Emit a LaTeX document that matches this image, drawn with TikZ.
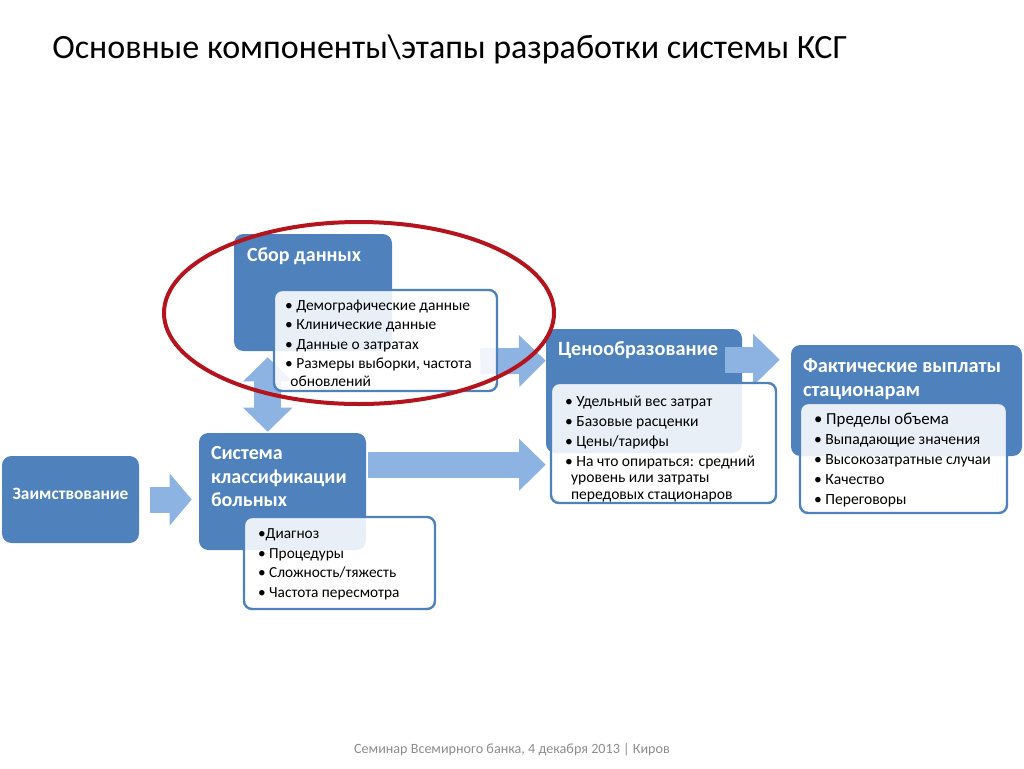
\documentclass[tikz,border=0pt]{standalone}
\usepackage{fontspec}
\setmainfont{Carlito}
\usepackage{tikz}
\usetikzlibrary{arrows.meta, positioning, fit, calc}
\definecolor{boxblue}{RGB}{79,129,189}
\definecolor{arrowblue}{RGB}{141,179,226}
\definecolor{ringred}{RGB}{180,20,30}
\definecolor{footgrey}{RGB}{140,140,140}

\begin{document}
\begin{tikzpicture}[x=0.75pt,y=0.75pt,yscale=-1,xscale=1,
  bluebox/.style={fill=boxblue, rounded corners=7pt, inner sep=0pt},
  listbox/.style={draw=boxblue, line width=1.8pt, fill=white, fill opacity=0.88, rounded corners=6pt, inner sep=0pt},
  blockarrow/.style={draw=arrowblue, line width=19.5pt, -{Triangle[length=20pt,width=39pt,line width=0pt]}},
  headtext/.style={text=white, inner sep=0pt, anchor=north west, align=left},
  listtext/.style={inner sep=0pt, anchor=north west, align=left},
]
\useasboundingbox (0,0) rectangle (1024,768);
%Title
\node[anchor=base west, inner sep=0pt, font=\fontsize{25.5}{30}\selectfont] (title) at (52,58) {Основные компоненты\textbackslash этапы разработки системы КСГ};
%Blue boxes
\node[bluebox, fit={(2,456) (139,543)}, text=white, font=\bfseries\fontsize{13}{15}\selectfont] (borrow) {Заимствование};
\node[bluebox, fit={(199,433) (366,550)}] (cls) {};
\node[bluebox, fit={(234,234) (392,351)}] (collect) {};
\node[bluebox, fit={(546,329) (742,453)}] (price) {};
\node[bluebox, fit={(791,345) (1022,456)}] (fact) {};
%Block arrows
\draw[blockarrow, -{Triangle[length=16.5pt,width=39pt,line width=0pt]}, shorten <=8.25pt, shorten >=5.25pt] (borrow.east) -- (borrow.east -| cls.west);
\draw[blockarrow, shorten <=1.5pt] ($(cls.north east)+(0,32)$) -- ($(price.north west)+(0,136)$);
\draw[blockarrow] ($(collect.south east)+(88,10)$) -- ($(price.north west)+(0,32)$);
\draw[blockarrow, shorten <=-12.75pt, shorten >=8.25pt] ($(price.north east)+(0,31)$) -- ($(fact.north west)+(0,15)$);
\draw[blockarrow, line width=20pt, {Triangle[length=18pt,width=37pt,line width=0pt]}-{Triangle[length=18pt,width=37pt,line width=0pt]}, shorten <=0.75pt, shorten >=4.5pt] ($(cls.north west)+(69,0)$) -- ($(collect.south west)+(34,0)$);
%List boxes
\node[listbox, fit={(274,290) (497,391)}] (collectlist) {};
\node[listbox, fit={(244,517) (435,609)}] (clslist) {};
\node[listbox, fit={(551,383) (776,503)}] (pricelist) {};
\node[listbox, fit={(800,403) (1007,513)}] (factlist) {};
%Headings
\node[headtext, font=\bfseries\fontsize{15}{17}\selectfont] (collecthead) at ($(collect.north west)+(13,13.5)$) {Сбор данных};
\node[headtext, font=\bfseries\fontsize{15}{17.6}\selectfont] (clshead) at ($(cls.north west)+(12,13.5)$) {Система\\классификации\\больных};
\node[headtext, font=\bfseries\fontsize{15.2}{17}\selectfont] (pricehead) at ($(price.north west)+(12,12.5)$) {Ценообразование};
\node[headtext, font=\bfseries\fontsize{15.3}{18}\selectfont] (facthead) at ($(fact.north west)+(12,13.5)$) {Фактические выплаты\\стационарам};
%Items
\node[listtext, font=\fontsize{11.6}{14.5}\selectfont] (collectitems) at ($(collectlist.north west)+(12,11)$) {• Демографические данные\\• Клинические данные\\• Данные о затратах\\• Размеры выборки, частота\\[-1pt]\hspace*{4pt}обновлений};
\node[listtext, font=\fontsize{11.5}{14.8}\selectfont] (clsitems) at ($(clslist.north west)+(15,12.5)$) {•Диагноз\\• Процедуры\\• Сложность/тяжесть\\• Частота пересмотра};
\node[listtext, font=\fontsize{11.7}{12.4}\selectfont] (priceitems) at ($(pricelist.north west)+(15,13.5)$) {• Удельный вес затрат\\[2.6pt]• Базовые расценки\\[2.6pt]• Цены/тарифы\\[2.6pt]• На что опираться: средний\\\hspace*{4.5pt}уровень или затраты\\\hspace*{4.5pt}передовых стационаров};
\node[listtext, font=\fontsize{11.7}{15}\selectfont] (factitems) at ($(factlist.north west)+(15,11)$) {{\fontsize{12.6}{15}\selectfont • Пределы объема}\\• Выпадающие значения\\• Высокозатратные случаи\\• Качество\\• Переговоры};
%Highlight ring
\draw[ringred, line width=3pt] (359,313) ellipse [x radius=195, y radius=91];
%Footer
\node[inner sep=0pt, text=footgrey, font=\fontsize{10.6}{12}\selectfont] (footer) at (512,750) {Семинар Всемирного банка, 4 декабря 2013 | Киров};
\end{tikzpicture}
\end{document}
